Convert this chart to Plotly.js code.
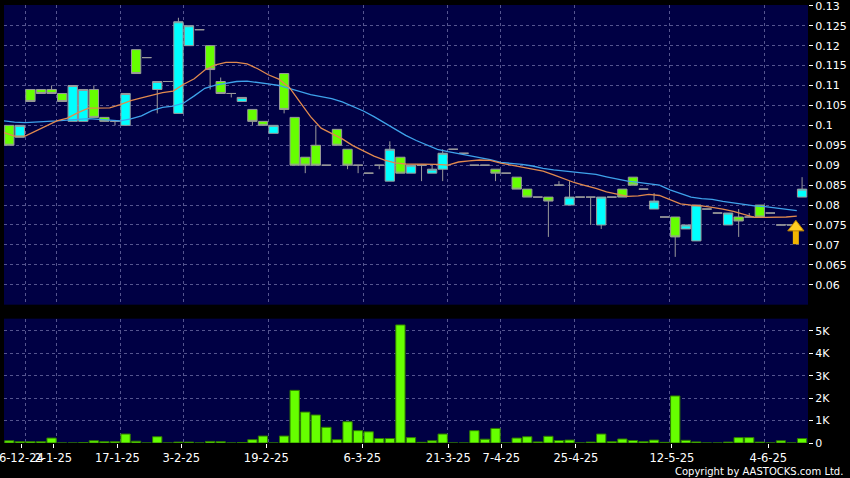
<!DOCTYPE html>
<html><head><meta charset="utf-8">
<script src="https://cdn.plot.ly/plotly-3.0.1.min.js"></script>
<style>html,body{margin:0;padding:0;background:#000;}#chart{width:850px;height:478px;}</style>
</head><body><div id="chart"></div>
<script>
// ---- data ----
const openP = [0.100,0.097,0.109,0.109,0.109,0.108,0.101,0.101,0.109,0.102,
 0.101,0.100,0.119,0.117,0.109,0.111,0.103,0.120,0.124,0.120,
 0.111,0.108,0.106,0.104,0.101,0.098,0.113,0.102,0.092,0.095,
 0.090,0.099,0.094,0.090,0.088,0.090,0.086,0.092,0.088,0.090,
 0.088,0.089,0.094,0.093,0.090,0.090,0.089,0.088,0.087,0.084,
 0.082,0.082,0.085,0.080,0.082,0.082,0.075,0.082,0.084,0.087,
 0.084,0.079,0.077,0.077,0.074,0.071,0.079,0.078,0.075,0.077,
 0.077,0.080,0.078,0.075,0.075,0.082];
const highP = [0.100,0.100,0.109,0.109,0.110,0.108,0.110,0.109,0.110,0.102,
 0.101,0.108,0.119,0.117,0.111,0.111,0.127,0.125,0.124,0.120,
 0.112,0.108,0.107,0.104,0.101,0.100,0.113,0.102,0.092,0.100,
 0.090,0.099,0.094,0.090,0.088,0.090,0.096,0.092,0.090,0.090,
 0.090,0.094,0.094,0.093,0.090,0.090,0.089,0.088,0.087,0.084,
 0.082,0.082,0.086,0.086,0.082,0.082,0.082,0.082,0.084,0.087,
 0.084,0.083,0.077,0.077,0.075,0.080,0.079,0.078,0.078,0.079,
 0.078,0.080,0.078,0.075,0.075,0.087];
const lowP = [0.095,0.097,0.106,0.108,0.108,0.106,0.101,0.101,0.102,0.101,
 0.100,0.100,0.113,0.117,0.103,0.111,0.103,0.120,0.124,0.109,
 0.108,0.107,0.106,0.100,0.100,0.098,0.103,0.090,0.088,0.090,
 0.090,0.095,0.089,0.088,0.088,0.089,0.086,0.088,0.088,0.086,
 0.088,0.086,0.094,0.093,0.090,0.090,0.086,0.088,0.084,0.082,
 0.082,0.072,0.085,0.080,0.082,0.075,0.074,0.082,0.082,0.085,
 0.084,0.079,0.077,0.067,0.074,0.071,0.079,0.078,0.075,0.072,
 0.077,0.077,0.078,0.075,0.075,0.082];
const closeP = [0.095,0.100,0.106,0.108,0.108,0.106,0.110,0.109,0.102,0.101,
 0.101,0.108,0.113,0.117,0.111,0.111,0.126,0.125,0.124,0.114,
 0.108,0.108,0.107,0.101,0.100,0.100,0.104,0.090,0.090,0.090,
 0.090,0.095,0.090,0.090,0.088,0.090,0.094,0.088,0.090,0.090,
 0.089,0.093,0.094,0.093,0.090,0.090,0.088,0.088,0.084,0.082,
 0.082,0.081,0.085,0.082,0.082,0.082,0.082,0.082,0.082,0.085,
 0.084,0.081,0.077,0.072,0.075,0.080,0.079,0.078,0.078,0.076,
 0.077,0.077,0.078,0.075,0.075,0.084];
const volume = [100,60,60,60,220,0,0,20,100,60,
 60,400,80,0,280,0,40,40,0,70,
 60,0,20,150,310,0,310,2350,1380,1250,
 700,150,950,550,500,200,200,5270,240,30,
 100,400,0,0,550,170,650,0,220,280,
 50,300,110,130,0,40,400,60,180,110,
 60,130,30,2100,120,50,0,0,40,240,
 240,40,0,100,0,200];
const maShort = [0.0982,0.0973,0.0973,0.0986,0.0999,0.1011,0.1018,0.1032,0.1043,0.1044,
 0.1044,0.1052,0.1062,0.1069,0.1076,0.1082,0.1086,0.1103,0.1117,0.1139,
 0.1152,0.1158,0.1158,0.1154,0.1142,0.1127,0.1116,0.1095,0.1058,0.1022,
 0.0993,0.0980,0.0966,0.0949,0.0935,0.0923,0.0913,0.0906,0.0903,0.0903,
 0.0903,0.0902,0.0900,0.0908,0.0911,0.0913,0.0912,0.0905,0.0900,0.0895,
 0.0889,0.0885,0.0876,0.0866,0.0856,0.0849,0.0842,0.0833,0.0827,0.0822,
 0.0823,0.0827,0.0824,0.0813,0.0803,0.0800,0.0798,0.0794,0.0790,0.0784,
 0.0776,0.0769,0.0769,0.0769,0.0770,0.0772];
const maLong = [0.1011,0.1008,0.1007,0.1008,0.1010,0.1011,0.1013,0.1015,0.1017,0.1015,
 0.1013,0.1011,0.1016,0.1024,0.1037,0.1045,0.1048,0.1056,0.1074,0.1093,
 0.1101,0.1106,0.1110,0.1111,0.1108,0.1104,0.1100,0.1092,0.1084,0.1077,
 0.1072,0.1067,0.1059,0.1048,0.1036,0.1022,0.1006,0.0989,0.0975,0.0962,
 0.0950,0.0940,0.0934,0.0929,0.0925,0.0920,0.0914,0.0907,0.0905,0.0902,
 0.0898,0.0892,0.0888,0.0885,0.0882,0.0880,0.0877,0.0871,0.0866,0.0860,
 0.0857,0.0854,0.0850,0.0838,0.0828,0.0820,0.0816,0.0814,0.0809,0.0805,
 0.0801,0.0798,0.0796,0.0793,0.0790,0.0786];
const xTickLabels = ['6-12-24','2-1-25','17-1-25','3-2-25','19-2-25','6-3-25','21-3-25','7-4-25','25-4-25','12-5-25','4-6-25'];
const xTickPos = [1.14,4.16,10.22,16.27,24.31,33.40,41.53,46.55,53.61,62.69,71.81];
const xGridPos = [1.5,4.45,10.5,16.46,24.54,33.49,41.44,46.45,53.45,62.44,71.43];
const priceTickVals = [0.06,0.065,0.07,0.075,0.08,0.085,0.09,0.095,0.1,0.105,0.11,0.115,0.12,0.125,0.13];
const priceTickText = ['0.06','0.065','0.07','0.075','0.08','0.085','0.09','0.095','0.1','0.105','0.11','0.115','0.12','0.125','0.13'];
const volTickVals = [0,1000,2000,3000,4000,5000];
const volTickText = ['0','1K','2K','3K','4K','5K'];
const arrowX = [74.41];
const arrowHeadY = [0.0744];
const arrowShaftY = [0.0721];

// ---- build ----
const idx = openP.map((_, i) => i);
const maX = maShort.map((_, i) => i - 0.5);
const gridCol = '#55558f';
const font = 'DejaVu Sans';

const traces = [
  {type:'candlestick', x:idx, open:openP, high:highP, low:lowP, close:closeP,
   xaxis:'x', yaxis:'y', whiskerwidth:0,
   increasing:{line:{color:'#9a9a9a', width:1}, fillcolor:'#00FFFF'},
   decreasing:{line:{color:'#9a9a9a', width:1}, fillcolor:'#66FF00'},
   hoverinfo:'skip'},
  {type:'scatter', mode:'lines', x:maX, y:maLong, xaxis:'x', yaxis:'y',
   line:{color:'#3ea2ea', width:1.3}, hoverinfo:'skip'},
  {type:'scatter', mode:'lines', x:maX, y:maShort, xaxis:'x', yaxis:'y',
   line:{color:'#e0894e', width:1.3}, hoverinfo:'skip'},
  {type:'scatter', mode:'markers', x:arrowX, y:arrowShaftY, xaxis:'x', yaxis:'y',
   marker:{symbol:'line-ns', size:11, line:{width:6, color:'#f2b400'}}, hoverinfo:'skip'},
  {type:'scatter', mode:'markers', x:arrowX, y:arrowHeadY, xaxis:'x', yaxis:'y',
   marker:{symbol:'triangle-up', size:14, color:'#ffcc22', line:{width:1, color:'#c08400'}}, hoverinfo:'skip'},
  {type:'bar', x:idx, y:volume, xaxis:'x2', yaxis:'y2',
   marker:{color:'#66FF00', line:{color:'#2f7a00', width:1}}, hoverinfo:'skip'}
];

const layout = {
  width:850, height:478,
  margin:{l:4, r:42, t:5, b:34.5},
  paper_bgcolor:'#000', plot_bgcolor:'#000044',
  showlegend:false,
  font:{family:font, color:'#ffffff', size:11},
  boxgap:0.12, boxgroupgap:0, bargap:0.12,
  xaxis:{domain:[0,1], anchor:'y', range:[-0.5,75.56], showticklabels:false, ticks:'',
    tickmode:'array', tickvals:xGridPos, showgrid:true, gridcolor:gridCol, griddash:'3px,3px',
    gridwidth:1, zeroline:false, showline:false, rangeslider:{visible:false}, fixedrange:true},
  yaxis:{domain:[0.3158,1], anchor:'x', side:'right', range:[0.055,0.1302],
    tickmode:'array', tickvals:priceTickVals, ticktext:priceTickText, ticklabeloverflow:'allow',
    ticks:'outside', ticklen:4, tickcolor:'#ffffff', tickfont:{size:11, color:'#fff'},
    showgrid:true, gridcolor:gridCol, griddash:'3px,3px', zeroline:false, showline:false},
  xaxis2:{domain:[0,1], anchor:'y2', matches:'x', range:[-0.5,75.56],
    tickmode:'array', tickvals:xTickPos, ticktext:xTickLabels, tickangle:0, ticklabeloverflow:'allow',
    ticks:'outside', ticklen:4, tickcolor:'#ffffff', tickfont:{size:11.5, color:'#fff'},
    showgrid:false, zeroline:false, showline:false,
    minor:{tickmode:'array', tickvals:xGridPos, showgrid:true, gridcolor:gridCol, griddash:'3px,3px', ticks:''}},
  yaxis2:{domain:[0,0.2839], anchor:'x2', side:'right', range:[0,5550],
    tickmode:'array', tickvals:volTickVals, ticktext:volTickText, ticklabeloverflow:'allow',
    ticks:'outside', ticklen:4, tickcolor:'#ffffff', tickfont:{size:11, color:'#fff'},
    showgrid:true, gridcolor:gridCol, griddash:'3px,3px', zeroline:false, showline:false},
  annotations:[{text:'Copyright by AASTOCKS.com Ltd.', xref:'paper', yref:'paper',
    x:1.046, y:-0.0643, xanchor:'right', yanchor:'middle', showarrow:false,
    font:{family:font, size:10, color:'#ffffff'}}]
};

Plotly.newPlot('chart', traces, layout, {staticPlot:true, displayModeBar:false});
</script>
</body></html>
